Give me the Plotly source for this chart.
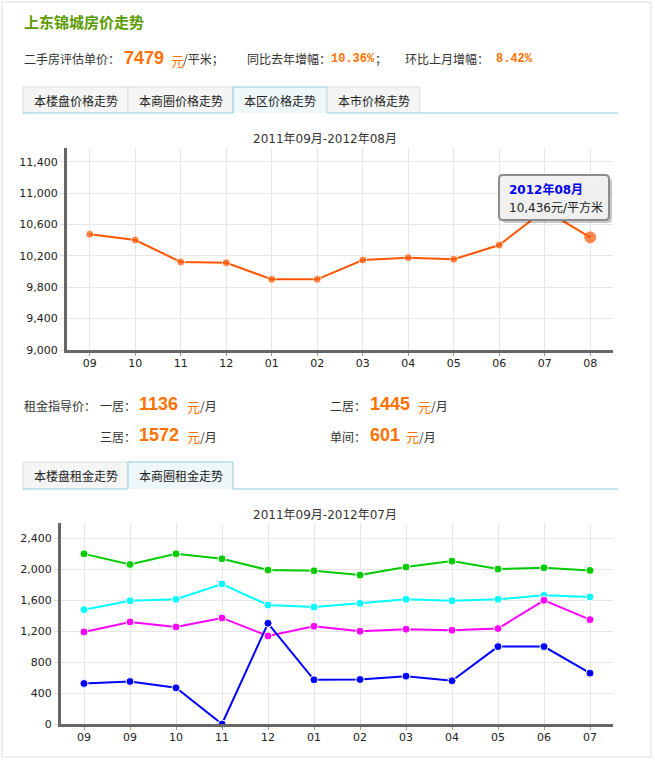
import plotly.graph_objects as go

W, H = 655, 760

# ---------------- data ----------------
price_months = ["09", "10", "11", "12", "01", "02", "03", "04", "05", "06", "07", "08"]
price_values = [10475, 10402, 10122, 10112, 9901, 9901, 10147, 10177, 10156, 10338, 10784, 10436]
price_ticks = [9000, 9400, 9800, 10200, 10600, 11000, 11400]

rent_months = ["09", "09", "10", "11", "12", "01", "02", "03", "04", "05", "06", "07"]
rent_green = [2201, 2064, 2201, 2137, 1991, 1982, 1926, 2030, 2107, 2004, 2021, 1987]
rent_cyan = [1479, 1595, 1613, 1810, 1539, 1514, 1561, 1613, 1595, 1613, 1664, 1643]
rent_magenta = [1191, 1320, 1256, 1372, 1139, 1264, 1200, 1226, 1213, 1234, 1600, 1350]
rent_blue = [524, 550, 468, 0, 1303, 572, 576, 619, 559, 1001, 1001, 658]
rent_ticks = [0, 400, 800, 1200, 1600, 2000, 2400]

FONT_CN = "Noto Sans CJK SC, sans-serif"
FONT_NUM = "DejaVu Sans, Noto Sans CJK SC, sans-serif"
ORANGE = "#ff7200"


def px(x):
    return x / W


def py(y):
    return 1 - y / H


annotations = []
shapes = []


def txt(x, y, text, size=12, color="#333333", family=FONT_CN, anchor="left"):
    annotations.append(dict(
        x=px(x), y=py(y), xref="paper", yref="paper", text=text, showarrow=False,
        xanchor=anchor, yanchor="middle", font=dict(size=size, color=color, family=family),
    ))


def rect(x0, y0, x1, y1, fill=None, line=None, lw=1):
    shapes.append(dict(
        type="rect", xref="paper", yref="paper", x0=px(x0), x1=px(x1), y0=py(y1), y1=py(y0),
        fillcolor=fill if fill else "rgba(0,0,0,0)",
        line=dict(color=line if line else "rgba(0,0,0,0)", width=lw if line else 0),
        layer="above",
    ))


def hline(x0, x1, y, color, lw=1):
    shapes.append(dict(type="line", xref="paper", yref="paper", x0=px(x0), x1=px(x1),
                       y0=py(y), y1=py(y), line=dict(color=color, width=lw), layer="above"))


def vline(x, y0, y1, color, lw=1):
    shapes.append(dict(type="line", xref="paper", yref="paper", x0=px(x), x1=px(x),
                       y0=py(y0), y1=py(y1), line=dict(color=color, width=lw), layer="above"))


def rounded(x0, y0, x1, y1, r, fill, line=None, lw=0):
    pts = (
        f"M {px(x0 + r)} {py(y0)} L {px(x1 - r)} {py(y0)} "
        f"Q {px(x1)} {py(y0)} {px(x1)} {py(y0 + r)} L {px(x1)} {py(y1 - r)} "
        f"Q {px(x1)} {py(y1)} {px(x1 - r)} {py(y1)} L {px(x0 + r)} {py(y1)} "
        f"Q {px(x0)} {py(y1)} {px(x0)} {py(y1 - r)} L {px(x0)} {py(y0 + r)} "
        f"Q {px(x0)} {py(y0)} {px(x0 + r)} {py(y0)} Z"
    )
    shapes.append(dict(type="path", xref="paper", yref="paper", path=pts, fillcolor=fill,
                       line=dict(color=line if line else "rgba(0,0,0,0)", width=lw),
                       layer="above"))


def tabs(items, x_edges, y0, y1, active, right_end):
    line_blue = "#8ecbe0"
    for i, label in enumerate(items):
        xa, xb = x_edges[i], x_edges[i + 1]
        if i == active:
            rect(xa, y0, xb, y1, fill="#eef7fa")
            hline(xa, xb, y0, line_blue)
            vline(xa, y0, y1, line_blue)
            vline(xb, y0, y1, line_blue)
        else:
            rect(xa, y0, xb, y1, fill="#f5f5f5")
            hline(xa, xb, y0, "#dddddd")
            vline(xa, y0, y1, "#dddddd")
            vline(xb, y0, y1, "#dddddd")
        txt((xa + xb) / 2, (y0 + y1) / 2 + 0.5, label, 12, "#222222", anchor="center")
    xa, xb = x_edges[active], x_edges[active + 1]
    if xa > x_edges[0]:
        hline(x_edges[0], xa, y1, line_blue)
    hline(xb, right_end, y1, line_blue)


# ---------------- outer frame ----------------
rect(2, 2, 651, 757, line="#dddddd", lw=1)

# ---------------- header ----------------
txt(22, 21, "<b>上东锦城房价走势</b>", 15, "#5c9a00")
txt(22, 59, "二手房评估单价：", 12)
txt(122, 58, "<b>7479</b>", 18, ORANGE, "Liberation Sans, Arial, sans-serif")
txt(169, 60, "元", 13, ORANGE)
txt(181, 59, "/平米；", 12)
txt(245, 59, "同比去年增幅：", 12)
txt(329, 59, "<b>10.36%</b>", 12, ORANGE, "Liberation Mono, monospace")
txt(373, 59, "；", 12)
txt(403, 59, "环比上月增幅：", 12)
txt(494, 59, "<b>8.42%</b>", 12, ORANGE, "Liberation Mono, monospace")

tabs(["本楼盘价格走势", "本商圈价格走势", "本区价格走势", "本市价格走势"],
     [23, 128, 233, 327, 420], 87, 113, 2, 618)

txt(325, 139, "2011年09月-2012年08月", 12, "#333333", FONT_NUM, anchor="center")

# ---------------- rent info ----------------
NUMF = "Liberation Sans, Arial, sans-serif"
txt(22, 405, "租金指导价：", 12)
txt(98, 405, "一居：", 12)
txt(137, 404, "<b>1136</b>", 18, ORANGE, NUMF)
txt(185, 406, "元", 13, ORANGE)
txt(198, 405, "/月", 12)
txt(328, 405, "二居：", 12)
txt(368, 404, "<b>1445</b>", 18, ORANGE, NUMF)
txt(416, 406, "元", 13, ORANGE)
txt(429, 405, "/月", 12)

txt(98, 436, "三居：", 12)
txt(137, 435, "<b>1572</b>", 18, ORANGE, NUMF)
txt(185, 437, "元", 13, ORANGE)
txt(198, 436, "/月", 12)
txt(328, 436, "单间：", 12)
txt(368, 435, "<b>601</b>", 18, ORANGE, NUMF)
txt(404, 437, "元", 13, ORANGE)
txt(417, 436, "/月", 12)

tabs(["本楼盘租金走势", "本商圈租金走势"], [23, 128, 233], 462, 489, 1, 618)

txt(325, 515, "2011年09月-2012年07月", 12, "#333333", FONT_NUM, anchor="center")

# ---------------- tooltip ----------------
rounded(502, 178, 612, 223, 4, "rgba(0,0,0,0.22)")
rounded(499, 175, 609, 220, 4, "rgba(242,242,242,0.97)", "#8c8c8c", 2)
txt(507, 189, "<b>2012年08月</b>", 12, "#0000ee", FONT_NUM)
txt(507, 207, "10,436元/平方米", 12, "#222222", FONT_NUM)

# ---------------- traces ----------------
fig = go.Figure()

fig.add_trace(go.Scatter(
    x=list(range(len(price_months))), y=price_values, mode="lines+markers",
    line=dict(color="#ff5500", width=2),
    marker=dict(size=[8] * (len(price_values) - 1) + [11], color="#ff5500",
                line=dict(color=["white"] * (len(price_values) - 1) + ["#ff5500"], width=1)),
    cliponaxis=False, xaxis="x", yaxis="y", name="本区",
))

rent_series = [
    ("rent_green", rent_green, "#00cc00"),
    ("rent_cyan", rent_cyan, "#00ffff"),
    ("rent_magenta", rent_magenta, "#ff00ff"),
    ("rent_blue", rent_blue, "#0000ff"),
]
for name, vals, col in rent_series:
    fig.add_trace(go.Scatter(
        x=list(range(len(rent_months))), y=vals, mode="lines+markers",
        line=dict(color=col, width=2),
        marker=dict(size=8, color=col, line=dict(color="white", width=1)),
        cliponaxis=False, xaxis="x2", yaxis="y2", name=name,
    ))

axis_common = dict(
    showgrid=True, gridcolor="#e6e6e6", gridwidth=1, zeroline=False,
    showline=True, linecolor="#666666", linewidth=3, automargin=False,
    tickfont=dict(size=11, color="#222222", family=FONT_NUM), fixedrange=True,
)

fig.update_layout(
    width=W, height=H, margin=dict(l=0, r=0, t=0, b=0, autoexpand=False),
    paper_bgcolor="white", plot_bgcolor="white", showlegend=False,
    xaxis=dict(domain=[px(67), px(613)], range=[-0.5, len(price_months) - 0.5],
               tickvals=list(range(len(price_months))), ticktext=price_months,
               ticks="outside", ticklen=3, tickcolor="#999999", ticklabelstandoff=-2,
               anchor="y", **axis_common),
    yaxis=dict(domain=[py(350), py(148)], range=[9000, 11575], tickvals=price_ticks,
               tickformat=",d", ticks="outside", ticklen=4, tickcolor="#dddddd",
               anchor="x", **axis_common),
    xaxis2=dict(domain=[px(61), px(613)], range=[-0.5, len(rent_months) - 0.5],
                tickvals=list(range(len(rent_months))), ticktext=rent_months,
                ticks="outside", ticklen=3, tickcolor="#999999", ticklabelstandoff=-2,
                anchor="y2", **axis_common),
    yaxis2=dict(domain=[py(724), py(523)], range=[0, 2600], tickvals=rent_ticks,
                tickformat=",d", ticks="outside", ticklen=4, tickcolor="#dddddd",
                anchor="x2", **axis_common),
    annotations=annotations, shapes=shapes,
)

fig.write_html("out.html", config={"displayModeBar": False},
               post_script="document.body.style.margin='0';document.documentElement.style.overflow='hidden';")
